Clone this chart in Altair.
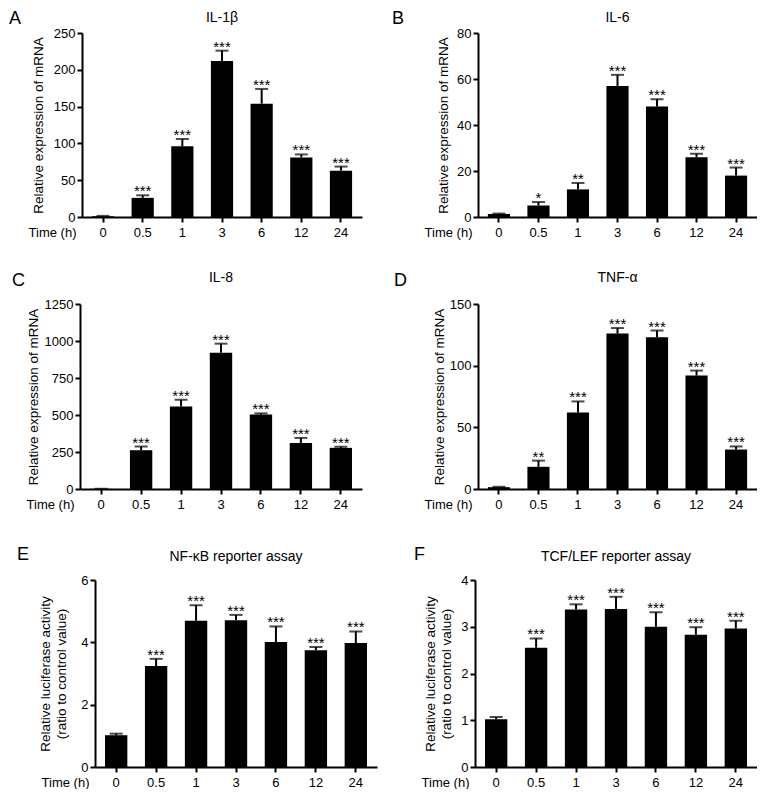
import altair as alt
import pandas as pd

FONT = "Liberation Sans"

times = ["0", "0.5", "1", "3", "6", "12", "24"]

il1b_mean = [1.0, 26, 96, 212, 154, 81, 63]
il1b_err = [0.5, 3.5, 10, 14, 20, 4, 5.5]
il1b_sig = ["", "***", "***", "***", "***", "***", "***"]

il6_mean = [1.3, 5, 12, 57, 48, 26, 18]
il6_err = [0.2, 1.5, 2.8, 4.8, 3.2, 1.5, 3.5]
il6_sig = ["", "*", "**", "***", "***", "***", "***"]

il8_mean = [1.0, 262, 558, 920, 503, 310, 278]
il8_err = [0.5, 25, 45, 62, 8, 35, 8]
il8_sig = ["", "***", "***", "***", "***", "***", "***"]

tnf_mean = [1.5, 18, 62, 126, 123, 92, 32]
tnf_err = [0.3, 5, 9, 4.5, 5.5, 4, 2.5]
tnf_sig = ["", "**", "***", "***", "***", "***", "***"]

nfkb_mean = [1.02, 3.24, 4.69, 4.71, 4.01, 3.75, 3.98]
nfkb_err = [0.05, 0.23, 0.5, 0.17, 0.5, 0.1, 0.37]
nfkb_sig = ["", "***", "***", "***", "***", "***", "***"]

tcf_mean = [1.02, 2.55, 3.37, 3.38, 3.0, 2.83, 2.96]
tcf_err = [0.05, 0.2, 0.11, 0.26, 0.31, 0.16, 0.17]
tcf_sig = ["", "***", "***", "***", "***", "***", "***"]

MRNA = "Relative expression of mRNA"
LUC = ["Relative luciferase activity", "(ratio to control value)"]

panels = {
    "A": dict(title="IL-1β", mean=il1b_mean, err=il1b_err, sig=il1b_sig, ymax=250,
              yticks=[0, 50, 100, 150, 200, 250], ytitle=MRNA, w=280, h=184,
              L=73, T=23, lx=-73, ly=-14, ty=-15, tpad=8),
    "B": dict(title="IL-6", mean=il6_mean, err=il6_err, sig=il6_sig, ymax=80,
              yticks=[0, 20, 40, 60, 80], ytitle=MRNA, w=279, h=184,
              L=114, T=23, lx=-86, ly=-14, ty=-15, tpad=6),
    "C": dict(title="IL-8", mean=il8_mean, err=il8_err, sig=il8_sig, ymax=1250,
              yticks=[0, 250, 500, 750, 1000, 1250], ytitle=MRNA, w=282, h=185,
              L=71, T=65, lx=-68, ly=-23, ty=-26, tpad=4),
    "D": dict(title="TNF-α", mean=tnf_mean, err=tnf_err, sig=tnf_sig, ymax=150,
              yticks=[0, 50, 100, 150], ytitle=MRNA, w=279, h=185,
              L=116, T=65, lx=-84, ly=-23, ty=-26, tpad=3),
    "E": dict(title="NF-κB reporter assay", mean=nfkb_mean, err=nfkb_err, sig=nfkb_sig, ymax=6,
              yticks=[0, 2, 4, 6], ytitle=LUC, w=282, h=187,
              L=86, T=69, lx=-78, ly=-25, ty=-23, tpad=12),
    "F": dict(title="TCF/LEF reporter assay", mean=tcf_mean, err=tcf_err, sig=tcf_sig, ymax=4,
              yticks=[0, 1, 2, 3, 4], ytitle=LUC, w=282, h=187,
              L=98, T=69, lx=-61, ly=-25, ty=-23, tpad=7),
}


def panel(letter):
    p = panels[letter]
    df = pd.DataFrame({"time": times, "mean": p["mean"], "err": p["err"], "sig": p["sig"]})
    df["upper"] = df["mean"] + df["err"]
    base = alt.Chart(df)
    xaxis = alt.Axis(title="Time (h)", titleX=-6, titleY=9, titleAlign="right",
                     titleBaseline="top", labelAngle=0, labelPadding=4, titleFontSize=13)
    xscale = alt.Scale(paddingInner=0.44, paddingOuter=0.25)
    xenc = alt.X("time:N", sort=times, scale=xscale, axis=xaxis)
    yscale = alt.Scale(domain=[0, p["ymax"]], nice=False)
    yaxis = alt.Axis(title=p["ytitle"], values=p["yticks"], titlePadding=p["tpad"],
                     titleLineHeight=16, labelPadding=2, labelOverlap=False,
                     format="d", titleFontSize=13.5)

    def Y(field):
        return alt.Y(field, scale=yscale, axis=yaxis)

    bars = base.mark_bar(color="black").encode(x=xenc, y=Y("mean:Q"))
    rule = base.mark_rule(color="black", strokeWidth=2).encode(
        x=xenc, y=Y("mean:Q"), y2="upper:Q")
    cap = base.mark_tick(color="black", thickness=2, size=13, orient="horizontal").encode(
        x=xenc, y=Y("upper:Q"))
    stars = base.mark_text(fontSize=15, baseline="alphabetic", dy=1, font=FONT,
                           color="black").encode(x=xenc, y=Y("upper:Q"), text="sig:N")
    one = pd.DataFrame({"a": [0]})
    let = alt.Chart(one).mark_text(text=letter, fontSize=18, align="left", baseline="middle",
                                   font=FONT, color="black").encode(
        x=alt.value(p["lx"]), y=alt.value(p["ly"]))
    ttl = alt.Chart(one).mark_text(text=p["title"], fontSize=14, align="center",
                                   baseline="middle", font=FONT, color="black").encode(
        x=alt.value(p["w"] / 2), y=alt.value(p["ty"]))
    spacer = alt.Chart(one).mark_text(text=".", opacity=0, align="left", baseline="top",
                                      fontSize=4).encode(
        x=alt.value(-p["L"]), y=alt.value(-p["T"]))
    return alt.layer(bars, rule, cap, stars, let, ttl, spacer).properties(
        width=p["w"], height=p["h"])


def dummy():
    one = pd.DataFrame({"a": [0]})
    return alt.Chart(one).mark_text(text="", opacity=0).encode(
        x=alt.value(0), y=alt.value(0)).properties(width=1, height=1)


chart = alt.concat(
    dummy(), panel("A"), panel("B"),
    dummy(), panel("C"), panel("D"),
    dummy(), panel("E"), panel("F"),
    columns=3, spacing=0, align={"row": "each", "column": "none"},
).properties(
    padding={"left": 0, "top": 2, "right": 0, "bottom": 0}
).configure_axis(
    domainColor="black", domainWidth=2, tickColor="black", tickWidth=2, tickSize=5,
    labelColor="black", labelFontSize=13, labelFont=FONT, titleFont=FONT,
    titleFontSize=13, titleFontWeight="normal", titleColor="black", grid=False,
).configure_view(stroke=None)

chart.save("out.html", embed_options={"renderer": "svg", "actions": False})
